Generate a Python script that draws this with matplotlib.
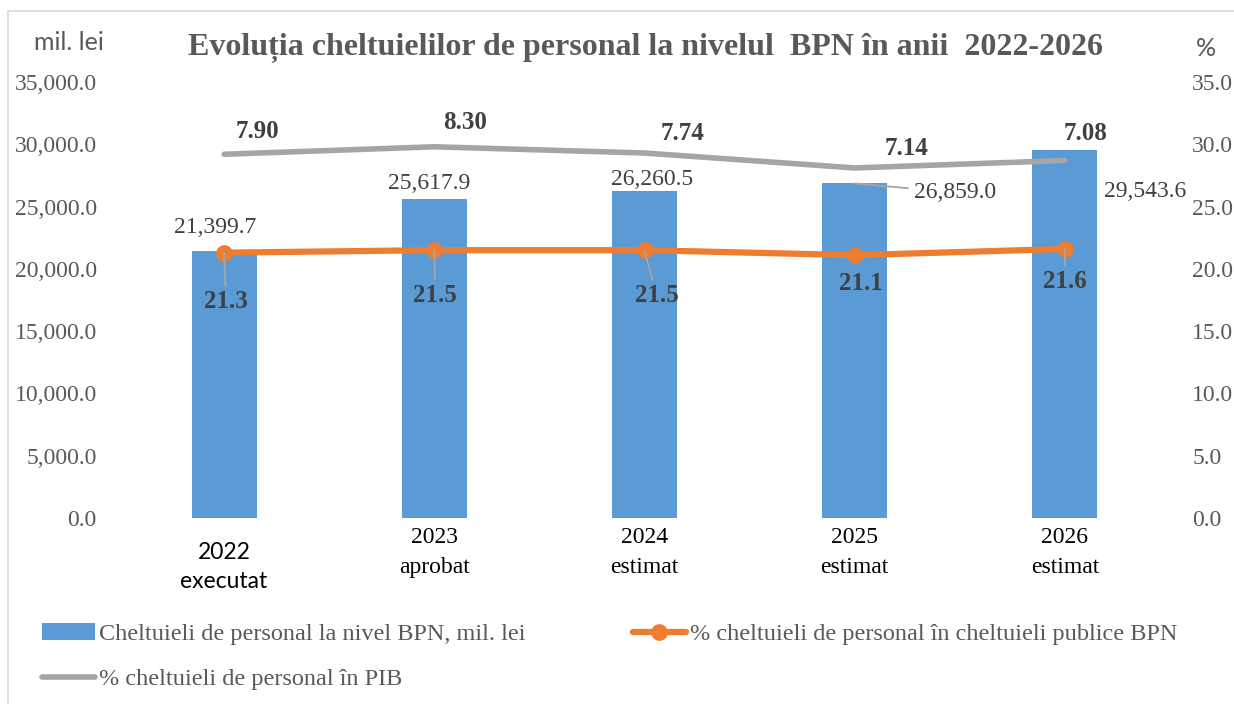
import matplotlib
matplotlib.use("Agg")
from matplotlib import pyplot as plt
from matplotlib.patches import Rectangle

# data
years = ["2022\nexecutat", "2023\naprobat", "2024\nestimat", "2025\nestimat", "2026\nestimat"]
cheltuieli = [21399.7, 25617.9, 26260.5, 26859.0, 29543.6]
pct_bpn = [21.3, 21.5, 21.5, 21.1, 21.6]
pct_pib = [7.90, 8.30, 7.74, 7.14, 7.08]
# the grey line is drawn at these heights on the % axis in the original
pct_pib_pos = [29.2, 29.8, 29.3, 28.1, 28.7]

# label offsets in pixels (dx, dy)
bar_lbl_off = [(-9, 24), (-5, 15), (8, 11), (100, -9), (80, -42)]
bpn_lbl_off = [(2, -49), (1, -45), (12, -45), (6, -28), (0, -33)]
pib_lbl_off = [(33, 23), (31, 24), (38, 20), (52, 19), (21, 27)]

BLUE = "#5B9BD5"
ORANGE = "#ED7D31"
GREY = "#A5A5A5"
TXT = "#595959"
LBL = "#404040"
SERIF = "Liberation Serif"
SANS = "Lato"

plt.rcParams["font.family"] = SERIF

fig = plt.figure(figsize=(12.34, 7.04), dpi=100)
W, H = 1234, 704
ax = fig.add_axes([119 / W, 1 - 518 / H, (1170 - 119) / W, (518 - 82) / H])
ax2 = ax.twinx()

x = list(range(len(years)))
bars = ax.bar(x, cheltuieli, width=0.31, color=BLUE, zorder=2,
              label="Cheltuieli de personal la nivel BPN, mil. lei")
ax.set_xlim(-0.5, len(years) - 0.5)
ax.set_ylim(0, 35000)
ax.set_yticks(range(0, 35001, 5000))
ax.set_yticklabels([f"{v:,.1f}" for v in range(0, 35001, 5000)])
ax.set_xticks([])

l_pib, = ax2.plot(x, pct_pib_pos, color=GREY, lw=4, solid_capstyle="round",
                  label="% cheltuieli de personal în PIB")
l_bpn, = ax2.plot(x, pct_bpn, color=ORANGE, lw=4.5, marker="o", ms=11,
                  solid_capstyle="round",
                  label="% cheltuieli de personal în cheltuieli publice BPN")
ax2.set_ylim(0, 35)
ax2.set_yticks(range(0, 36, 5))
ax2.set_yticklabels([f"{v:.1f}" for v in range(0, 36, 5)])

for a in (ax, ax2):
    for s in a.spines.values():
        s.set_visible(False)
    a.tick_params(axis="y", length=0, pad=16, labelsize=17, labelcolor=TXT)

# bar value labels
for i, v in enumerate(cheltuieli):
    arrow = None
    if i == 3:
        arrow = dict(arrowstyle="-", color=GREY, lw=1.3, shrinkA=2, shrinkB=0)
    ax.annotate(f"{v:,.1f}", xy=(i, v), xytext=bar_lbl_off[i], textcoords="offset pixels",
                ha="center", va="center", fontsize=17, color=LBL, arrowprops=arrow)

# orange labels
for i, v in enumerate(pct_bpn):
    arrow = None
    if i != 3:
        arrow = dict(arrowstyle="-", color=GREY, lw=1.3, shrinkA=1, shrinkB=0)
    ax2.annotate(f"{v:.1f}", xy=(i, v), xytext=bpn_lbl_off[i], textcoords="offset pixels",
                 ha="center", va="center", fontsize=18, fontweight="bold", color=LBL,
                 arrowprops=arrow)

# grey labels
for i, v in enumerate(pct_pib):
    ax2.annotate(f"{v:.2f}", xy=(i, pct_pib_pos[i]), xytext=pib_lbl_off[i],
                 textcoords="offset pixels", ha="center", va="center",
                 fontsize=18, fontweight="bold", color=LBL)

# category labels
for i, lab in enumerate(years):
    if i == 0:
        ax.annotate(lab, xy=(i, 0), xycoords=("data", "axes fraction"), xytext=(0, -24),
                    textcoords="offset pixels", ha="center", va="top", fontsize=16.5,
                    family=SANS, color="black", linespacing=1.5)
    else:
        ax.annotate(lab, xy=(i, 0), xycoords=("data", "axes fraction"), xytext=(0, -9),
                    textcoords="offset pixels", ha="center", va="top", fontsize=17,
                    color="black", linespacing=1.55)

fig.text(645 / W, 1 - 48 / H, "Evoluția cheltuielilor de personal la nivelul  BPN în anii  2022-2026",
         ha="center", va="center", fontsize=23, fontweight="bold", color=TXT)
fig.text(69 / W, 1 - 42 / H, "mil. lei", ha="center", va="center", fontsize=18,
         family=SANS, color=TXT)
fig.text(1206 / W, 1 - 49 / H, "%", ha="center", va="center", fontsize=18,
         family=SANS, color=TXT)

fig.legend([bars, l_pib, l_bpn],
           [bars.get_label(), l_pib.get_label(), l_bpn.get_label()],
           ncol=2, loc="upper left", bbox_to_anchor=(42 / W, 1 - 623 / H),
           frameon=False, fontsize=17.5, handlelength=2.2, handletextpad=0.15,
           columnspacing=4.4, labelspacing=0.95, borderpad=0, borderaxespad=0,
           labelcolor=TXT)

# light frame around the chart area
fig.patches.append(Rectangle((8 / W, -0.02), 1.1, 1 - 11 / H + 0.02, transform=fig.transFigure,
                             fill=False, edgecolor="#D9D9D9", lw=1.2))

fig.savefig("out.png", dpi=100)
